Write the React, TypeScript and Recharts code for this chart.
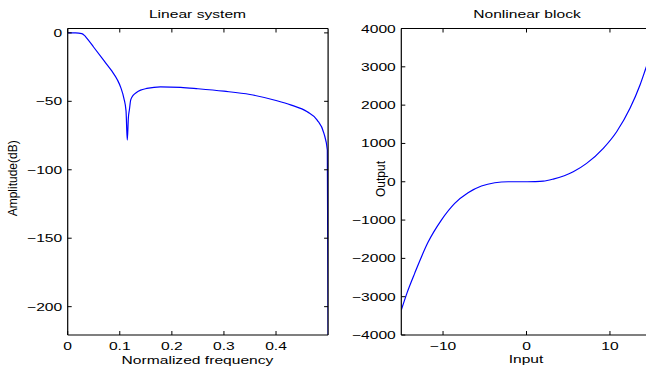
import React from "react";
import { LineChart, Line, XAxis, YAxis, Label } from "recharts";

// left panel: magnitude response of the linear block
const freq = [
  0, 0.015, 0.027, 0.032, 0.037, 0.05, 0.07, 0.085, 0.095, 0.102, 0.108,
  0.112, 0.1144, 0.1165, 0.1185, 0.121, 0.126, 0.132, 0.14, 0.152, 0.178,
  0.217, 0.25, 0.3, 0.35, 0.4, 0.428, 0.46, 0.479, 0.492, 0.4985, 0.5,
];
const ampDb = [
  0, 0, -0.5, -1.8, -4, -10.5, -20.5, -28, -34, -40, -48, -57, -78.3, -62,
  -56, -49, -45.5, -43.5, -41.8, -40.6, -39.4, -39.8, -40.8, -42.6, -45,
  -49.4, -52.6, -57.7, -63.7, -73.4, -85.6, -220.7,
];

// right panel: static nonlinearity
const inputVals = [
  -15, -14.28, -13.4, -11.8, -10.2, -8.6, -7, -5.4, -3.8, -2.2, -0.8, 1, 2,
  3.2, 5.6, 7.2, 9.2, 10.8, 12.4, 13.6, 14.3, 15,
];
const outputVals = [
  -3350, -2880, -2392, -1580, -1000, -564, -287, -112, -26, 0, 0, 5, 15, 70,
  261, 480, 872, 1305, 1916, 2525, 2961, 3400,
];

const freqTicks = [0, 0.1, 0.2, 0.3, 0.4];
const ampTicks = [-200, -150, -100, -50, 0];
const inputTicks = [-10, 0, 10];
const outputTicks = [-4000, -3000, -2000, -1000, 0, 1000, 2000, 3000, 4000];

const linearData = freq.map((f, i) => ({ f, db: ampDb[i] }));
const nonlinData = inputVals.map((x, i) => ({ x, y: outputVals[i] }));

const FONT = "'Liberation Sans', Arial, Helvetica, sans-serif";
const STRETCH = 1.42; // the original text is wide
const TICK_LEN = 4;
const BLUE = "#0000ff";

const fmt = (v: number) => String(v).replace("-", "\u2212");

const HText = ({ x, y, anchor, size = 11, children }: any) => (
  <text
    transform={`translate(${x},${y}) scale(${STRETCH},1)`}
    textAnchor={anchor}
    fontSize={size}
    fontFamily={FONT}
    fill="#000"
  >
    {children}
  </text>
);

const VText = ({ x, y, children }: any) => (
  <text
    transform={`translate(${x},${y}) rotate(-90)`}
    textAnchor="middle"
    fontSize={12}
    fontFamily={FONT}
    fill="#000"
  >
    {children}
  </text>
);

const BottomTick = (props: any) => {
  const { x, y, payload } = props;
  return (
    <g>
      <line x1={x} y1={y} x2={x} y2={y - TICK_LEN} stroke="#000" />
      <HText x={x} y={y + 14.5} anchor="middle">
        {fmt(payload.value)}
      </HText>
    </g>
  );
};

const TopTick = (props: any) => {
  const { x, y } = props;
  return <line x1={x} y1={y} x2={x} y2={y + TICK_LEN} stroke="#000" />;
};

const LeftTick = (props: any) => {
  const { x, y, payload } = props;
  return (
    <g>
      <line x1={x} y1={y} x2={x + TICK_LEN} y2={y} stroke="#000" />
      <HText x={x - 5.5} y={y + 4} anchor="end">
        {fmt(payload.value)}
      </HText>
    </g>
  );
};

const RightTick = (props: any) => {
  const { x, y } = props;
  return <line x1={x} y1={y} x2={x - TICK_LEN} y2={y} stroke="#000" />;
};

const axisCommon = {
  type: "number" as const,
  tickSize: 0,
  tickMargin: 0,
  tickLine: false,
  interval: 0 as const,
  allowDataOverflow: true,
  axisLine: { stroke: "#000", strokeWidth: 1.2 },
};

const LinearPanel = () => (
  <LineChart
    width={340}
    height={372}
    data={linearData}
    margin={{ top: 27.5, right: 10.9, bottom: 36, left: 66.7 }}
  >
    <XAxis
      {...axisCommon}
      dataKey="f"
      domain={[0, 0.5]}
      ticks={freqTicks}
      height={1}
      tick={<BottomTick />}
    >
      <Label
        content={() => (
          <HText x={197.5} y={364.3} anchor="middle" size={11}>
            Normalized frequency
          </HText>
        )}
      />
    </XAxis>
    <XAxis
      {...axisCommon}
      xAxisId="top"
      orientation="top"
      dataKey="f"
      domain={[0, 0.5]}
      ticks={freqTicks}
      height={1}
      tick={<TopTick />}
    >
      <Label
        content={() => (
          <HText x={197.5} y={18} anchor="middle" size={11}>
            Linear system
          </HText>
        )}
      />
    </XAxis>
    <YAxis
      {...axisCommon}
      domain={[-220.7, 3.2]}
      ticks={ampTicks}
      width={1}
      tick={<LeftTick />}
    >
      <Label content={() => <VText x={17.2} y={178.3}>Amplitude(dB)</VText>} />
    </YAxis>
    <YAxis
      {...axisCommon}
      yAxisId="right"
      orientation="right"
      domain={[-220.7, 3.2]}
      ticks={ampTicks}
      width={1}
      tick={<RightTick />}
    />
    <Line
      type="monotone"
      dataKey="db"
      stroke={BLUE}
      strokeWidth={1.2}
      dot={false}
      isAnimationActive={false}
    />
  </LineChart>
);

const NonlinearPanel = () => (
  <LineChart
    width={320}
    height={372}
    data={nonlinData}
    margin={{ top: 27.5, right: 7.3, bottom: 36, left: 60.3 }}
  >
    <XAxis
      {...axisCommon}
      dataKey="x"
      domain={[-15, 15]}
      ticks={inputTicks}
      height={1}
      tick={<BottomTick />}
    >
      <Label
        content={() => (
          <HText x={186} y={363.3} anchor="middle" size={11}>
            Input
          </HText>
        )}
      />
    </XAxis>
    <XAxis
      {...axisCommon}
      xAxisId="top"
      orientation="top"
      dataKey="x"
      domain={[-15, 15]}
      ticks={inputTicks}
      height={1}
      tick={<TopTick />}
    >
      <Label
        content={() => (
          <HText x={187} y={18.3} anchor="middle" size={11}>
            Nonlinear block
          </HText>
        )}
      />
    </XAxis>
    <YAxis
      {...axisCommon}
      domain={[-4000, 4000]}
      ticks={outputTicks}
      width={1}
      tick={<LeftTick />}
    >
      <Label content={() => <VText x={45.2} y={179}>Output</VText>} />
    </YAxis>
    <YAxis
      {...axisCommon}
      yAxisId="right"
      orientation="right"
      domain={[-4000, 4000]}
      ticks={outputTicks}
      width={1}
      tick={<RightTick />}
    />
    <Line
      type="monotone"
      dataKey="y"
      stroke={BLUE}
      strokeWidth={1.2}
      dot={false}
      isAnimationActive={false}
    />
  </LineChart>
);

export default function App() {
  return (
    <div
      style={{
        position: "fixed",
        left: 0,
        top: 0,
        width: 646,
        height: 372,
        overflow: "hidden",
        background: "#fff",
      }}
    >
      <div style={{ position: "absolute", left: 0, top: 0 }}>
        <LinearPanel />
      </div>
      <div style={{ position: "absolute", left: 340, top: 0 }}>
        <NonlinearPanel />
      </div>
    </div>
  );
}
